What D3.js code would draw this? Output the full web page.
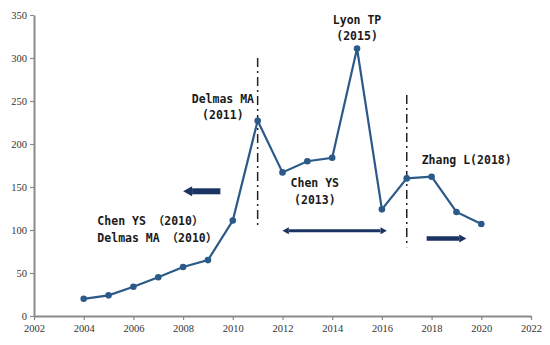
<!DOCTYPE html>
<html><head><meta charset="utf-8">
<script src="https://cdn.jsdelivr.net/npm/d3@7"></script>
<style>body{margin:0;background:#fff}</style>
</head><body>
<svg id="c" width="550" height="345"></svg>
<script>
const years = [2004,2005,2006,2007,2008,2009,2010,2011,2012,2013,2014,2015,2016,2017,2018,2019,2020];
const counts = [20,24,34,45,57,65,111,227,167,180,184,311,124,160,162,121,107];
const xTicks = [2002,2004,2006,2008,2010,2012,2014,2016,2018,2020,2022];
const yTicks = [0,50,100,150,200,250,300,350];
const vlines = [{year:2011, top:300, bottom:102},{year:2017, top:257, bottom:80}];
const notes = [
  {lines:["Lyon TP","(2015)"], year:2015, value:340, anchor:"middle", dy:16},
  {lines:["Delmas MA","(2011)"], year:2009.6, value:248, anchor:"middle", dy:16},
  {lines:["Chen YS","(2013)"], year:2013.3, value:150, anchor:"middle", dy:17},
  {lines:["Zhang L(2018)"], year:2017.6, value:177, anchor:"start", dy:17},
  {lines:["Chen YS （2010）","Delmas MA （2010）"], year:2004.55, value:106, anchor:"start", dy:17}
];
const arrows = [
  {x1:2009.5, x2:2008.0, value:145, w:6, head:10, both:false},
  {x1:2012.0, x2:2016.2, value:99, w:3, head:7, both:true},
  {x1:2017.8, x2:2019.4, value:90, w:4.5, head:8, both:false}
];

const svg = d3.select("#c");
const x = d3.scaleLinear().domain([2002,2022]).range([34,531]);
const y = d3.scaleLinear().domain([0,350]).range([316,15]);

const ax = svg.append("g").attr("transform","translate(0,316)")
  .call(d3.axisBottom(x).tickValues(xTicks).tickFormat(d3.format("d")).tickSize(4).tickSizeOuter(0));
const ay = svg.append("g").attr("transform","translate(34,0)")
  .call(d3.axisLeft(y).tickValues(yTicks).tickSize(4).tickSizeOuter(0));
[ax,ay].forEach(g=>{
  g.select(".domain").attr("stroke","#8a8a8a").attr("stroke-width",2);
  g.selectAll(".tick line").attr("stroke","#8a8a8a").attr("stroke-width",1.2);
  g.selectAll(".tick text").attr("font-family","Liberation Serif, serif").attr("font-size",10.5).attr("fill","#333");
});
ax.selectAll(".tick text").attr("dy","0.9em");

svg.selectAll(".vl").data(vlines).join("line")
  .attr("x1",d=>x(d.year)).attr("x2",d=>x(d.year))
  .attr("y1",d=>y(d.top)).attr("y2",d=>y(d.bottom))
  .attr("stroke","#222").attr("stroke-width",1.5).attr("stroke-dasharray","9,4,2,4");

const line = d3.line().x((d,i)=>x(years[i])).y(d=>y(d));
svg.append("path").datum(counts).attr("d",line).attr("fill","none")
  .attr("stroke","#2b5a88").attr("stroke-width",2.2);
svg.selectAll(".pt").data(counts).join("circle")
  .attr("cx",(d,i)=>x(years[i])).attr("cy",d=>y(d)).attr("r",3.3).attr("fill","#2b5a88");

notes.forEach(n=>{
  const t = svg.append("text").attr("x",x(n.year)).attr("y",y(n.value))
    .attr("text-anchor",n.anchor).attr("font-family","DejaVu Sans Mono, Noto Sans CJK SC, monospace")
    .attr("font-weight","bold").attr("font-size",11.5).attr("fill","#1a1a1a");
  n.lines.forEach((l,i)=>t.append("tspan").attr("x",x(n.year)).attr("dy",i? n.dy:0).text(l));
});

const col = "#1b3464";
arrows.forEach(a=>{
  const yy = y(a.value), xa = x(a.x1), xb = x(a.x2);
  const dir = Math.sign(xb-xa);
  const hl = a.head*0.9;
  const s = a.both ? xa + dir*hl : xa;
  svg.append("line").attr("x1",s).attr("x2",xb - dir*hl).attr("y1",yy).attr("y2",yy)
    .attr("stroke",col).attr("stroke-width",a.w);
  const head = (tip,d)=>svg.append("path")
    .attr("d",`M${tip},${yy} L${tip-d*hl},${yy-a.head/2} L${tip-d*hl},${yy+a.head/2} Z`).attr("fill",col);
  head(xb,dir);
  if(a.both) head(xa,-dir);
});
</script>
</body></html>
